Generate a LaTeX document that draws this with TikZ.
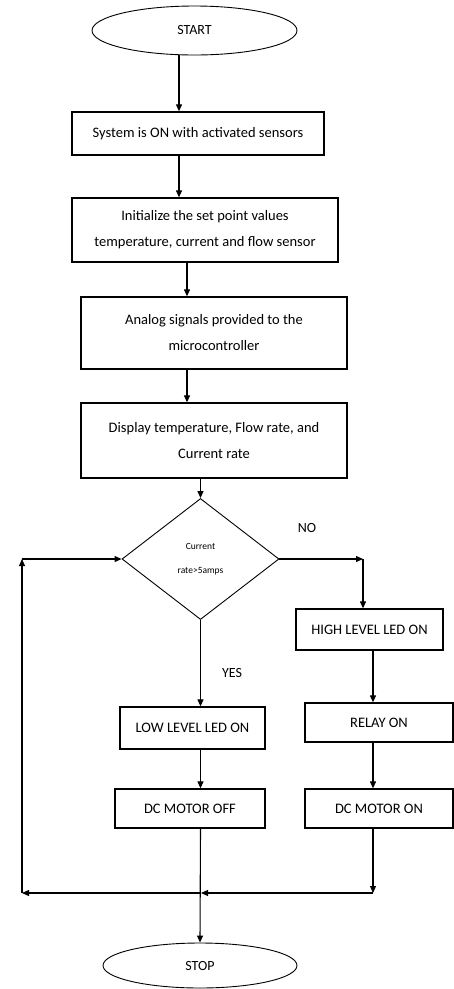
\documentclass[tikz,border=0pt]{standalone}
\usepackage{fontspec}
\setmainfont{Carlito}
\usetikzlibrary{shapes.geometric,arrows.meta}
\begin{document}
\begin{tikzpicture}[x=1pt, y=-1pt, line width=1.1pt, >={Triangle[length=7pt,width=6pt]},
  box/.style={draw, rectangle, align=center, inner sep=0pt, line width=1.3pt, font=\fontsize{14.5}{26}\selectfont},
  term/.style={draw, ellipse, inner sep=0pt, line width=0.9pt, font=\fontsize{14}{16}\selectfont},
  decide/.style={draw, diamond, align=center, inner sep=0pt, line width=0.9pt, font=\fontsize{9.5}{24}\selectfont},
  lbl/.style={font=\fontsize{14}{16}\selectfont}]
\useasboundingbox (0,0) rectangle (454,989);
% main line
\node [term, minimum width=205pt, minimum height=49pt] (start) at (194.5,30.5) {START};
\node [box, minimum width=252pt, minimum height=43pt] (sys) at (198,133.5) {System is ON with activated sensors};
\node [box, minimum width=266pt, minimum height=64pt] (init) at (205,230) {Initialize the set point values\\temperature, current and flow sensor};
\node [box, minimum width=266pt, minimum height=72pt] (analog) at (214,333) {Analog signals provided to the\\microcontroller};
\node [box, minimum width=266pt, minimum height=75pt] (disp) at (214,440.5) {Display temperature, Flow rate, and\\Current rate};
\node [decide, minimum width=157pt, minimum height=121pt] (cur) at (200.5,559) {Current\\rate>5amps};
% yes side
\node [box, minimum width=145pt, minimum height=42pt] (lowled) at (192.5,728) {LOW LEVEL LED ON};
\node [box, minimum width=150pt, minimum height=39pt] (motoff) at (190,808.5) {DC MOTOR OFF};
% no side
\node [box, minimum width=147pt, minimum height=41pt] (highled) at (369.5,629.5) {HIGH LEVEL LED ON};
\node [box, minimum width=148pt, minimum height=39pt] (relay) at (379,722.5) {RELAY ON};
\node [box, minimum width=148pt, minimum height=39pt] (moton) at (379,808.5) {DC MOTOR ON};
\node [term, minimum width=194pt, minimum height=45pt] (stop) at (200,965.5) {STOP};
% labels
\node [lbl] (nolbl) at (307,528) {NO};
\node [lbl] (yeslbl) at (232,673) {YES};
% bends
\coordinate (xa) at (179,0);
\coordinate (xb) at (187,0);
\coordinate (xc) at (373,0);
\coordinate (nocorner) at (363,559);
\coordinate (rjoin) at (373,893);
\coordinate (mjoin) at (201,893);
\coordinate (ljoin) at (22,893);
\coordinate (lcorner) at (22,559);
% arrows down
\draw [->] (xa |- start.south) -- (xa |- sys.north);
\draw [->] (xa |- sys.south) -- (xa |- init.north);
\draw [->] (xb |- init.south) -- (xb |- analog.north);
\draw [->] (xb |- analog.south) -- (xb |- disp.north);
\draw [->] (cur.north |- disp.south) -- (cur.north);
% NO
\draw [->] (cur.east) -- (nocorner);
\draw [->] (nocorner) -- (nocorner |- highled.north);
\draw [->] (xc |- highled.south) -- (xc |- relay.north);
\draw [->] (xc |- relay.south) -- (xc |- moton.north);
\draw [->] (xc |- moton.south) -- (rjoin);
% YES
\draw [->] (cur.south) -- (cur.south |- lowled.north);
\draw [->] (cur.south |- lowled.south) -- (cur.south |- motoff.north);
\draw [->] (cur.south |- motoff.south) -- (stop.north);
% back loop
\draw [->] (rjoin) -- (mjoin);
\draw [->] (mjoin) -- (ljoin);
\draw [->] (ljoin) -- (lcorner);
\draw [->] (lcorner) -- (cur.west);
\end{tikzpicture}
\end{document}
